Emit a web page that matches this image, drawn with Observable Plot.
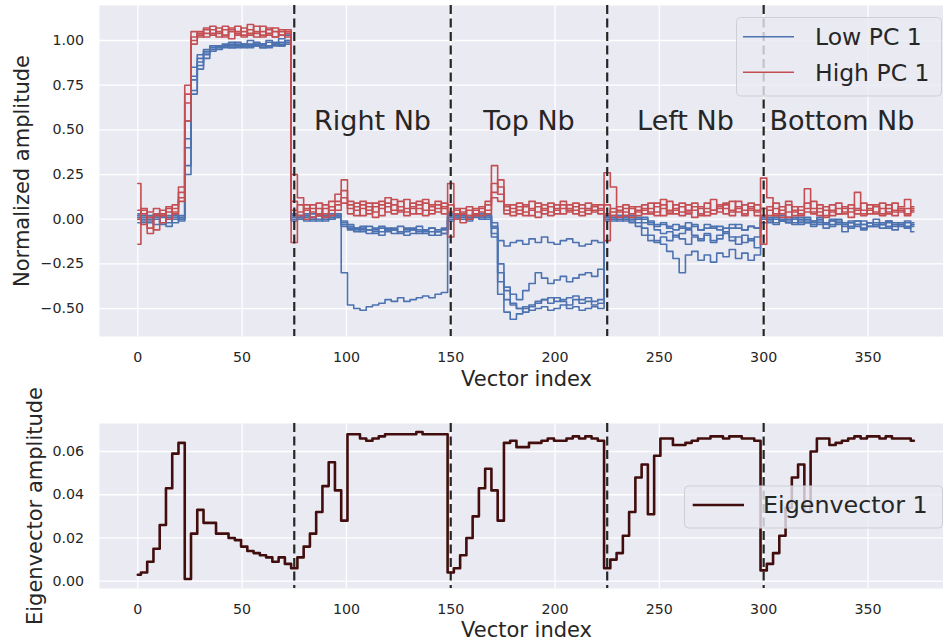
<!DOCTYPE html>
<html><head><meta charset="utf-8">
<script src="https://cdn.jsdelivr.net/npm/d3@7"></script>
<script src="https://cdn.jsdelivr.net/npm/@observablehq/plot@0.6"></script>
<style>
body{margin:0;background:#fff;}
#chart{position:relative;width:943px;height:644px;overflow:hidden;font-family:"DejaVu Sans",sans-serif;}
#chart svg{position:absolute;left:0;max-width:none;}
</style></head><body><div id="chart"></div>
<script>
// ---- data (sampled every 3rd vector index) ----
const vectorIndex = d3.range(0, 375, 3);
const boundaries = [75, 150, 225, 300];
const regionNames = ["Right Nb", "Top Nb", "Left Nb", "Bottom Nb"];
const xTicks = [0, 50, 100, 150, 200, 250, 300, 350];
const topYTicks = [-0.5, -0.25, 0, 0.25, 0.5, 0.75, 1.0];
const bottomYTicks = [0, 0.02, 0.04, 0.06];

const low1 = [
 0.01,-0.02,0.02,0.00,-0.03,0.01,0.02,0.00,0.45,0.80,0.90,0.93,0.95,0.96,0.97,0.96,0.97,0.96,0.98,0.97,0.96,0.97,0.98,0.99,1.00,
 0.02,0.00,0.03,-0.01,0.02,0.01,0.00,0.02,-0.30,-0.48,-0.50,-0.51,-0.49,-0.48,-0.47,-0.45,-0.46,-0.44,-0.46,-0.45,-0.44,-0.43,-0.44,-0.42,-0.41,
 0.02,0.01,0.03,0.00,0.02,0.01,0.02,-0.05,-0.35,-0.45,-0.48,-0.50,-0.49,-0.51,-0.50,-0.49,-0.51,-0.50,-0.48,-0.50,-0.49,-0.51,-0.50,-0.49,-0.50,
 0.00,0.02,0.01,-0.01,0.02,0.00,0.01,-0.02,-0.04,-0.03,-0.05,-0.06,-0.04,-0.05,-0.03,-0.06,-0.05,-0.04,-0.06,-0.05,-0.03,-0.05,-0.06,-0.04,-0.05,
 0.01,-0.01,0.00,0.02,-0.02,0.00,-0.01,0.01,-0.03,-0.01,-0.02,0.00,-0.03,-0.02,-0.05,-0.01,-0.03,-0.02,-0.04,-0.03,-0.02,-0.04,-0.03,-0.05,-0.03];
const low2 = [
 0.03,0.00,-0.02,0.02,0.01,-0.04,0.00,0.02,0.30,0.72,0.86,0.92,0.95,0.97,0.96,0.98,0.96,0.97,0.97,0.98,0.96,0.97,0.99,0.97,0.98,
 0.00,0.02,-0.01,0.01,0.03,0.00,0.02,0.01,-0.04,-0.06,-0.05,-0.07,-0.06,-0.08,-0.05,-0.07,-0.06,-0.08,-0.07,-0.06,-0.08,-0.07,-0.09,-0.07,-0.08,
 0.00,0.02,0.01,-0.01,0.02,0.03,0.01,-0.02,-0.12,-0.15,-0.13,-0.12,-0.14,-0.11,-0.13,-0.10,-0.13,-0.14,-0.12,-0.11,-0.13,-0.15,-0.14,-0.12,-0.13,
 0.02,0.00,-0.01,0.01,0.00,-0.02,-0.05,-0.09,-0.12,-0.14,-0.18,-0.22,-0.30,-0.20,-0.18,-0.23,-0.20,-0.24,-0.19,-0.21,-0.17,-0.22,-0.19,-0.23,-0.20,
 -0.02,0.00,-0.03,-0.01,-0.02,0.01,-0.03,-0.02,-0.04,-0.02,-0.05,-0.03,-0.02,-0.07,-0.04,-0.03,-0.06,-0.04,-0.03,-0.05,-0.04,-0.06,-0.03,-0.05,-0.07];
const low3 = [
 -0.02,0.02,0.01,-0.03,0.02,0.00,-0.02,0.01,0.55,0.85,0.92,0.95,0.96,0.97,0.98,0.97,0.99,0.98,0.97,0.99,0.98,1.00,0.98,1.01,1.03,
 0.03,0.01,0.02,0.00,-0.01,0.02,0.03,0.01,-0.03,-0.05,-0.07,-0.06,-0.08,-0.07,-0.09,-0.06,-0.08,-0.07,-0.09,-0.08,-0.06,-0.08,-0.07,-0.09,-0.08,
 0.03,0.00,0.02,0.01,0.03,0.00,0.02,-0.10,-0.42,-0.52,-0.56,-0.53,-0.50,-0.48,-0.46,-0.45,-0.44,-0.46,-0.45,-0.44,-0.43,-0.45,-0.44,-0.46,-0.45,
 0.01,-0.01,0.02,0.00,-0.02,-0.04,-0.09,-0.12,-0.13,-0.10,-0.12,-0.09,-0.11,-0.14,-0.10,-0.12,-0.09,-0.13,-0.11,-0.08,-0.12,-0.10,-0.13,-0.11,-0.16,
 0.00,0.01,-0.02,0.00,-0.01,-0.03,0.00,-0.02,-0.01,-0.03,-0.02,-0.04,-0.01,-0.03,-0.02,-0.04,-0.05,-0.02,-0.04,-0.02,-0.05,-0.03,-0.04,-0.02,-0.04];
const low4 = [
 0.00,0.01,-0.01,0.03,-0.02,0.02,0.01,-0.01,0.40,0.78,0.88,0.94,0.97,0.96,0.97,0.99,0.97,0.98,1.00,0.98,0.97,0.99,0.98,0.97,1.00,
 -0.01,0.02,0.01,0.03,0.00,0.02,0.01,0.03,-0.02,-0.04,-0.06,-0.05,-0.04,-0.06,-0.07,-0.05,-0.06,-0.04,-0.06,-0.05,-0.07,-0.06,-0.05,-0.07,-0.06,
 0.01,0.03,0.00,0.02,0.01,0.02,0.03,-0.08,-0.30,-0.38,-0.42,-0.45,-0.40,-0.36,-0.30,-0.33,-0.36,-0.34,-0.32,-0.35,-0.33,-0.31,-0.30,-0.32,-0.28,
 -0.01,0.01,0.00,0.02,0.01,0.00,-0.02,-0.01,-0.03,-0.02,-0.04,-0.03,-0.05,-0.02,-0.04,-0.06,-0.03,-0.05,-0.04,-0.07,-0.05,-0.03,-0.06,-0.04,-0.05,
 0.02,0.00,0.01,-0.01,0.01,0.00,-0.02,0.00,-0.01,0.01,-0.02,-0.01,0.00,-0.02,-0.01,-0.03,-0.01,-0.02,0.00,-0.03,-0.01,-0.02,-0.03,-0.01,-0.02];
const low5 = [
 0.02,-0.01,0.00,0.01,0.02,-0.02,0.03,0.00,0.25,0.70,0.84,0.90,0.94,0.95,0.97,0.96,0.98,0.97,0.96,0.97,0.98,0.96,0.97,0.98,0.99,
 0.01,0.00,0.02,0.01,0.02,-0.01,0.00,0.02,-0.01,-0.03,-0.05,-0.04,-0.06,-0.05,-0.04,-0.06,-0.05,-0.07,-0.05,-0.06,-0.04,-0.06,-0.05,-0.06,-0.05,
 -0.01,0.01,0.02,0.00,0.03,0.01,0.00,-0.04,-0.25,-0.40,-0.47,-0.50,-0.52,-0.49,-0.47,-0.45,-0.47,-0.44,-0.46,-0.48,-0.45,-0.47,-0.46,-0.48,-0.47,
 0.01,0.00,0.02,0.01,-0.01,0.01,0.00,-0.03,-0.06,-0.08,-0.07,-0.10,-0.08,-0.06,-0.09,-0.11,-0.08,-0.12,-0.09,-0.07,-0.10,-0.14,-0.09,-0.12,-0.10,
 0.00,-0.02,0.01,-0.01,0.00,-0.02,0.01,-0.01,-0.02,0.00,-0.03,-0.01,-0.02,-0.04,-0.02,-0.01,-0.03,-0.04,-0.02,-0.03,-0.01,-0.03,-0.02,-0.04,-0.03];

const high1 = [
 0.20,0.03,-0.08,0.02,0.05,0.00,0.06,0.15,0.70,1.02,1.04,1.06,1.03,1.07,1.02,1.05,1.08,1.03,1.06,1.04,1.02,1.07,1.05,1.03,1.06,
 0.25,0.12,0.05,0.08,0.02,0.06,0.10,0.14,0.22,0.10,0.05,0.08,0.03,0.07,0.10,0.04,0.08,0.05,0.11,0.06,0.03,0.09,0.05,0.08,0.06,
 0.20,0.05,0.03,0.07,0.02,0.06,0.10,0.30,0.18,0.08,0.04,0.07,0.02,0.06,0.09,0.03,0.07,0.05,0.08,0.04,0.09,0.06,0.03,0.07,0.05,
 0.26,0.18,0.05,0.08,0.03,0.07,0.05,0.09,0.04,0.06,0.10,0.03,0.07,0.05,0.09,0.02,0.06,0.11,0.04,0.08,0.05,0.10,0.03,0.07,0.05,
 0.23,0.12,0.06,0.03,0.08,0.04,0.07,0.17,0.06,0.02,0.07,0.04,0.09,0.03,0.06,0.15,0.05,0.08,0.03,0.06,0.04,0.09,0.05,0.03,0.06];
const high2 = [
 -0.14,0.05,0.01,-0.06,0.03,0.07,0.04,0.10,0.55,0.98,1.05,1.02,1.08,1.04,1.06,1.01,1.04,1.07,1.03,1.05,1.08,1.03,1.02,1.06,1.04,
 -0.13,0.04,0.08,0.01,0.06,0.03,0.05,0.08,0.12,0.06,0.09,0.02,0.07,0.04,0.08,0.12,0.03,0.07,0.04,0.09,0.06,0.02,0.08,0.04,0.07,
 -0.10,0.03,0.06,0.00,0.05,0.02,0.08,0.15,0.22,0.05,0.08,0.03,0.07,0.10,0.04,0.08,0.02,0.06,0.10,0.05,0.03,0.08,0.06,0.04,0.08,
 -0.12,0.04,0.07,0.02,0.06,0.04,0.08,0.03,0.07,0.11,0.04,0.06,0.02,0.08,0.05,0.03,0.09,0.05,0.07,0.03,0.10,0.04,0.08,0.06,0.02,
 -0.14,0.05,0.02,0.07,0.01,0.05,0.03,0.06,0.10,0.04,0.02,0.08,0.03,0.06,0.01,0.05,0.09,0.03,0.07,0.02,0.08,0.04,0.06,0.02,0.05];
const high3 = [
 0.05,-0.03,0.04,0.06,-0.02,0.04,0.08,0.12,0.65,1.00,1.03,1.07,1.04,1.02,1.08,1.06,1.03,1.05,1.09,1.02,1.05,1.04,1.07,1.03,1.05,
 0.10,0.02,0.06,0.04,0.09,0.01,0.07,0.05,0.09,0.03,0.07,0.10,0.05,0.09,0.02,0.07,0.11,0.04,0.06,0.03,0.10,0.05,0.07,0.10,0.03,
 0.08,0.00,0.04,0.02,0.06,0.04,0.05,0.12,0.10,0.03,0.06,0.09,0.04,0.02,0.07,0.05,0.09,0.03,0.06,0.08,0.05,0.02,0.09,0.05,0.03,
 0.08,0.02,0.04,0.06,0.01,0.05,0.03,0.06,0.09,0.02,0.05,0.08,0.04,0.03,0.07,0.06,0.02,0.05,0.08,0.06,0.02,0.07,0.05,0.09,0.04,
 0.06,0.02,0.09,0.01,0.04,0.07,0.02,0.04,0.03,0.08,0.05,0.02,0.06,0.04,0.08,0.03,0.02,0.06,0.04,0.09,0.03,0.05,0.07,0.11,0.04];
const high4 = [
 0.00,0.06,-0.05,0.03,0.02,0.06,0.03,0.18,0.75,1.05,1.02,1.04,1.06,1.05,1.03,1.07,1.05,1.02,1.04,1.08,1.03,1.06,1.02,1.05,1.02,
 0.05,0.08,0.00,0.06,0.03,0.08,0.02,0.10,0.16,0.08,0.02,0.06,0.09,0.01,0.06,0.09,0.05,0.10,0.02,0.07,0.08,0.11,0.03,0.06,0.09,
 0.04,0.06,-0.02,0.05,0.03,0.07,0.03,0.20,0.14,0.07,0.02,0.05,0.08,0.05,0.01,0.06,0.04,0.08,0.03,0.06,0.07,0.04,0.05,0.08,0.06,
 0.03,0.06,0.01,0.04,0.07,0.02,0.06,0.04,0.02,0.08,0.03,0.05,0.09,0.04,0.01,0.07,0.04,0.03,0.06,0.09,0.04,0.06,0.02,0.05,0.08,
 0.02,0.07,0.03,0.05,0.10,0.02,0.05,0.09,0.04,0.06,0.01,0.05,0.03,0.07,0.04,0.06,0.03,0.05,0.08,0.03,0.06,0.02,0.04,0.06,0.07];

const eigenvector1 = [
 0.003,0.004,0.009,0.015,0.026,0.043,0.059,0.064,0.001,0.022,0.033,0.027,0.027,0.022,0.022,0.020,0.019,0.016,0.014,0.013,0.012,0.011,0.009,0.011,0.008,
 0.006,0.011,0.016,0.022,0.032,0.044,0.055,0.042,0.028,0.068,0.068,0.066,0.065,0.066,0.067,0.068,0.068,0.068,0.068,0.068,0.069,0.068,0.068,0.068,0.068,
 0.004,0.006,0.012,0.020,0.030,0.043,0.052,0.042,0.028,0.064,0.065,0.062,0.062,0.064,0.064,0.065,0.066,0.065,0.065,0.066,0.067,0.066,0.067,0.066,0.065,
 0.006,0.010,0.013,0.021,0.032,0.048,0.054,0.031,0.058,0.066,0.066,0.063,0.063,0.064,0.065,0.066,0.066,0.067,0.067,0.066,0.067,0.067,0.066,0.066,0.065,
 0.005,0.008,0.013,0.021,0.034,0.048,0.054,0.032,0.060,0.066,0.066,0.063,0.064,0.065,0.066,0.067,0.066,0.067,0.067,0.066,0.067,0.066,0.066,0.066,0.065];

const lowSeries = [low1, low2, low3, low4, low5];
const highSeries = [high1, high2, high3, high4];

// ---- build tables ----
const toRows = (list) => list.flatMap((s, k) => s.map((v, i) => ({x: vectorIndex[i], y: v, series: k})));
const lowRows = toRows(lowSeries);
const highRows = toRows(highSeries);
const eigenRows = eigenvector1.map((v, i) => ({x: vectorIndex[i], y: v}));

const BG = "#eaeaf2", TXT = "#262626";
const BLUE = "#4c72b0", RED = "#c44e52", MAROON = "#420d0d";
const font = "DejaVu Sans";
const xDomain = [-18.36, 386.2];

function commonMarks(yTicks, fmt) {
  return [
    Plot.frame({fill: BG, stroke: null}),
    Plot.gridX(xTicks, {stroke: "white", strokeOpacity: 1, strokeWidth: 1.3}),
    Plot.gridY(yTicks, {stroke: "white", strokeOpacity: 1, strokeWidth: 1.3}),
    Plot.axisX(xTicks, {tickSize: 0, tickPadding: 15.5, label: null, fontSize: 14.2, fill: TXT}),
    Plot.axisY(yTicks, {tickSize: 0, tickPadding: 15.5, label: null, tickFormat: fmt, fontSize: 14.2, fill: TXT})
  ];
}

const topPlot = Plot.plot({
  width: 943, height: 390,
  marginTop: 5, marginBottom: 54, marginLeft: 99, marginRight: 0,
  style: {fontFamily: font, color: TXT, background: "transparent", overflow: "visible"},
  x: {domain: xDomain},
  y: {domain: [-0.6565, 1.196]},
  marks: [
    ...commonMarks(topYTicks, d3.format(".2f")),
    Plot.line(lowRows, {x: "x", y: "y", z: "series", stroke: BLUE, strokeWidth: 1.6, curve: "step"}),
    Plot.line(highRows, {x: "x", y: "y", z: "series", stroke: RED, strokeWidth: 1.6, curve: "step"}),
    Plot.ruleX(boundaries, {stroke: TXT, strokeWidth: 2.2, strokeDasharray: "9,4.5"}),
    Plot.text(regionNames, {x: (d, i) => boundaries[i] + 37.5, y: () => 0.5, text: d => d,
      fontSize: 27, fill: TXT, textAnchor: "middle", lineAnchor: "bottom"}),
    Plot.text(["Vector index"], {frameAnchor: "bottom", dy: 43, dx: 5, fontSize: 21, fill: TXT,
      textAnchor: "middle", lineAnchor: "middle"}),
    Plot.text(["Normalized amplitude"], {frameAnchor: "left", dx: -77.5, rotate: -90, fontSize: 21, fill: TXT,
      textAnchor: "middle", lineAnchor: "middle"})
  ]
});

const bottomPlot = Plot.plot({
  width: 943, height: 254,
  marginTop: 33, marginBottom: 56, marginLeft: 99, marginRight: 0,
  style: {fontFamily: font, color: TXT, background: "transparent", overflow: "visible"},
  x: {domain: xDomain},
  y: {domain: [-0.00338, 0.07295]},
  marks: [
    ...commonMarks(bottomYTicks, d3.format(".2f")),
    Plot.ruleX(boundaries, {stroke: TXT, strokeWidth: 2.2, strokeDasharray: "9,4.5"}),
    Plot.line(eigenRows, {x: "x", y: "y", stroke: MAROON, strokeWidth: 2.6, curve: "step"}),
    Plot.text(["Vector index"], {frameAnchor: "bottom", dy: 42, dx: 5, fontSize: 21, fill: TXT,
      textAnchor: "middle", lineAnchor: "middle"}),
    Plot.text(["Eigenvector amplitude"], {frameAnchor: "left", dx: -64.5, rotate: -90, fontSize: 21, fill: TXT,
      textAnchor: "middle", lineAnchor: "middle"})
  ]
});

function addLegend(svg, box, items, fontSize) {
  const g = d3.select(svg).append("g").attr("text-anchor", "start");
  g.append("rect").attr("x", box[0]).attr("y", box[1]).attr("width", box[2]).attr("height", box[3])
    .attr("rx", 4).attr("fill", BG).attr("fill-opacity", 0.8)
    .attr("stroke", "#cfcfd6").attr("stroke-width", 1);
  for (const it of items) {
    g.append("line").attr("x1", it.x1).attr("x2", it.x2).attr("y1", it.y).attr("y2", it.y)
      .attr("stroke", it.color).attr("stroke-width", it.w);
    g.append("text").attr("x", it.tx).attr("y", it.ty).attr("fill", TXT).attr("text-anchor", "start")
      .attr("font-family", font).attr("font-size", fontSize).text(it.label);
  }
}

addLegend(topPlot, [736.5, 17.5, 205, 78.5], [
  {label: "Low PC 1", color: BLUE, w: 1.6, x1: 743, x2: 794, y: 36.7, tx: 815, ty: 45},
  {label: "High PC 1", color: RED, w: 1.6, x1: 743, x2: 794, y: 72.3, tx: 815, ty: 81}
], 23.5);
addLegend(bottomPlot, [684.5, 96, 258, 42], [
  {label: "Eigenvector 1", color: MAROON, w: 2.6, x1: 692.7, x2: 744, y: 115, tx: 763, ty: 123}
], 23.8);

const chart = document.getElementById("chart");
topPlot.style.top = "0px";
bottomPlot.style.top = "390px";
chart.appendChild(topPlot);
chart.appendChild(bottomPlot);
</script></body></html>
